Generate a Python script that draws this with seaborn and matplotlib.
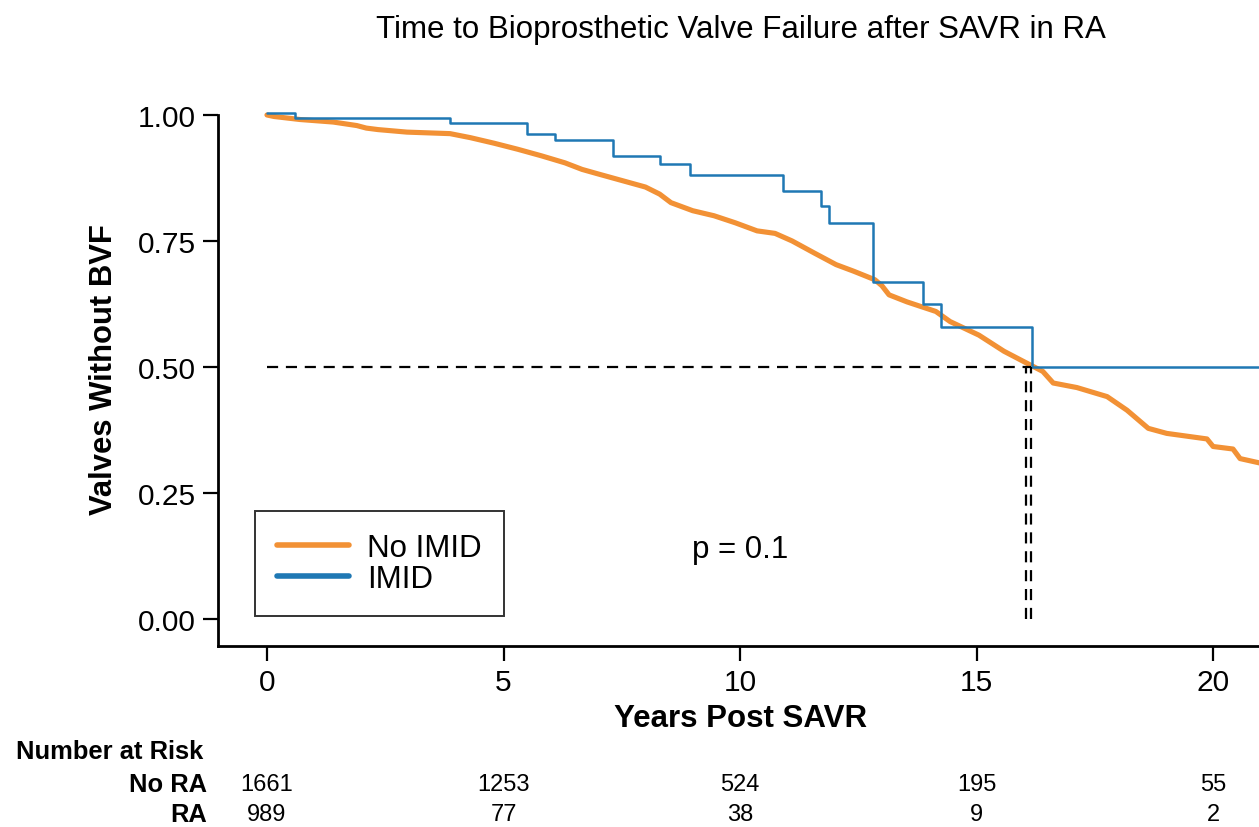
import numpy as np
import pandas as pd
import matplotlib
matplotlib.use("Agg")
import matplotlib.pyplot as plt
import seaborn as sns
from matplotlib.transforms import blended_transform_factory

# ---- data ----
no_imid_time = [0.0, 0.15, 0.7, 1.4, 1.9, 2.1, 2.35, 2.96, 3.87, 4.3, 4.8, 5.3, 5.8,
                6.3, 6.66, 7.0, 7.5, 8.0, 8.3, 8.54, 9.0, 9.45, 9.9, 10.36, 10.74,
                11.1, 11.57, 12.03, 12.4, 12.85, 13.0, 13.15, 13.53, 14.14, 14.44,
                15.05, 15.58, 16.07, 16.4, 16.62, 17.12, 17.76, 18.18, 18.63, 19.02,
                19.87, 20.0, 20.42, 20.57, 21.0]
no_imid_surv = [1.000, 0.997, 0.991, 0.986, 0.979, 0.974, 0.971, 0.966, 0.963, 0.955,
                0.944, 0.932, 0.919, 0.905, 0.892, 0.883, 0.870, 0.857, 0.843, 0.826,
                0.810, 0.800, 0.786, 0.770, 0.765, 0.750, 0.726, 0.703, 0.690, 0.673,
                0.661, 0.643, 0.629, 0.610, 0.590, 0.563, 0.531, 0.507, 0.491, 0.468,
                0.459, 0.441, 0.414, 0.378, 0.368, 0.357, 0.342, 0.337, 0.318, 0.309]

imid_time = [0.0, 0.6, 3.87, 5.5, 6.09, 7.31, 8.31, 8.94, 10.91, 11.72, 11.88,
             12.82, 13.86, 14.25, 16.17, 21.0]
imid_surv = [1.004, 0.994, 0.984, 0.962, 0.950, 0.918, 0.903, 0.881, 0.849, 0.819,
             0.786, 0.668, 0.625, 0.579, 0.499, 0.499]

median_line_y = 0.5
median_times = [16.04, 16.16]
p_text = "p = 0.1"

risk_times = [0, 5, 10, 15, 20]
risk_no_ra = [1661, 1253, 524, 195, 55]
risk_ra = [989, 77, 38, 9, 2]

x_ticks = [0, 5, 10, 15, 20]
y_ticks = [0.00, 0.25, 0.50, 0.75, 1.00]

ORANGE = "#F29135"
BLUE = "#1F78B4"

sns.set_theme(style="white")
plt.rcParams["font.family"] = ["Liberation Sans", "DejaVu Sans"]
plt.rcParams["text.color"] = "black"

df_no = pd.DataFrame({"time": no_imid_time, "surv": no_imid_surv, "group": "No IMID"})
df_im = pd.DataFrame({"time": imid_time, "surv": imid_surv, "group": "IMID"})

W, H = 1259, 828
fig = plt.figure(figsize=(W / 100, H / 100), dpi=100)
ax = fig.add_axes([218 / W, 181 / H, 1041 / W, 556 / H])

sns.lineplot(data=df_no, x="time", y="surv", ax=ax, color=ORANGE, lw=3.7,
             estimator=None, sort=False, label="No IMID")
sns.lineplot(data=df_im, x="time", y="surv", ax=ax, color=BLUE, lw=1.8,
             drawstyle="steps-post", estimator=None, sort=False, label="IMID")

# median reference lines
ax.plot([0, median_times[1]], [median_line_y, median_line_y], color="black",
        lw=1.6, ls=(0, (5, 3.5)))
for mt in median_times:
    ax.plot([mt, mt], [0, median_line_y], color="black", lw=1.6, ls=(0, (5, 3.5)))

ax.text(10.0, 0.139, p_text, fontsize=22.5, ha="center", va="center")

ax.set_xlim(-1.035, 20.97)
ax.set_ylim(-0.054, 1.0496)
ax.set_xticks(x_ticks)
ax.set_yticks(y_ticks)
ax.set_yticklabels([f"{v:.2f}" for v in y_ticks])
ax.tick_params(axis="both", which="major", direction="out", length=11, width=1.6,
               labelsize=21.5, color="black", labelcolor="black", pad=5,
               left=True, bottom=True)
ax.set_xlabel("")
ax.set_ylabel("")

for s in ["top", "right"]:
    ax.spines[s].set_visible(False)
for s in ["left", "bottom"]:
    ax.spines[s].set_color("black")
    ax.spines[s].set_linewidth(2.0)
ax.spines["left"].set_bounds(-0.054, 1.0)

leg = ax.legend(loc="lower left", bbox_to_anchor=(0.0355, 0.054), borderaxespad=0,
                fontsize=22.5, frameon=True, fancybox=False, handlelength=2.3,
                handletextpad=0.6, labelspacing=0.03, borderpad=0.7)
leg.get_frame().set_edgecolor("black")
leg.get_frame().set_linewidth(1.4)
for line in leg.get_lines():
    line.set_linewidth(4)

fig.text(741 / W, 1 - 30 / H, "Time to Bioprosthetic Valve Failure after SAVR in RA",
         fontsize=22.5, ha="center", va="center")
fig.text(741 / W, 1 - 719 / H, "Years Post SAVR", fontsize=22.5, fontweight="bold",
         ha="center", va="center")
fig.text(104 / W, 1 - 370 / H, "Valves Without BVF", fontsize=22.3, fontweight="bold",
         rotation=90, ha="center", va="center")

# number at risk table
fig.text(16 / W, 1 - 752 / H, "Number at Risk", fontsize=18.4, fontweight="bold",
         ha="left", va="center")
fig.text(207 / W, 1 - 785 / H, "No RA", fontsize=18.4, fontweight="bold",
         ha="right", va="center")
fig.text(207 / W, 1 - 815 / H, "RA", fontsize=18.4, fontweight="bold",
         ha="right", va="center")
trans = blended_transform_factory(ax.transData, fig.transFigure)
for t, a, b in zip(risk_times, risk_no_ra, risk_ra):
    ax.text(t, 1 - 785 / H, str(a), transform=trans, fontsize=17, ha="center",
            va="center", clip_on=False)
    ax.text(t, 1 - 815 / H, str(b), transform=trans, fontsize=17, ha="center",
            va="center", clip_on=False)

fig.savefig("out.png", dpi=100)
